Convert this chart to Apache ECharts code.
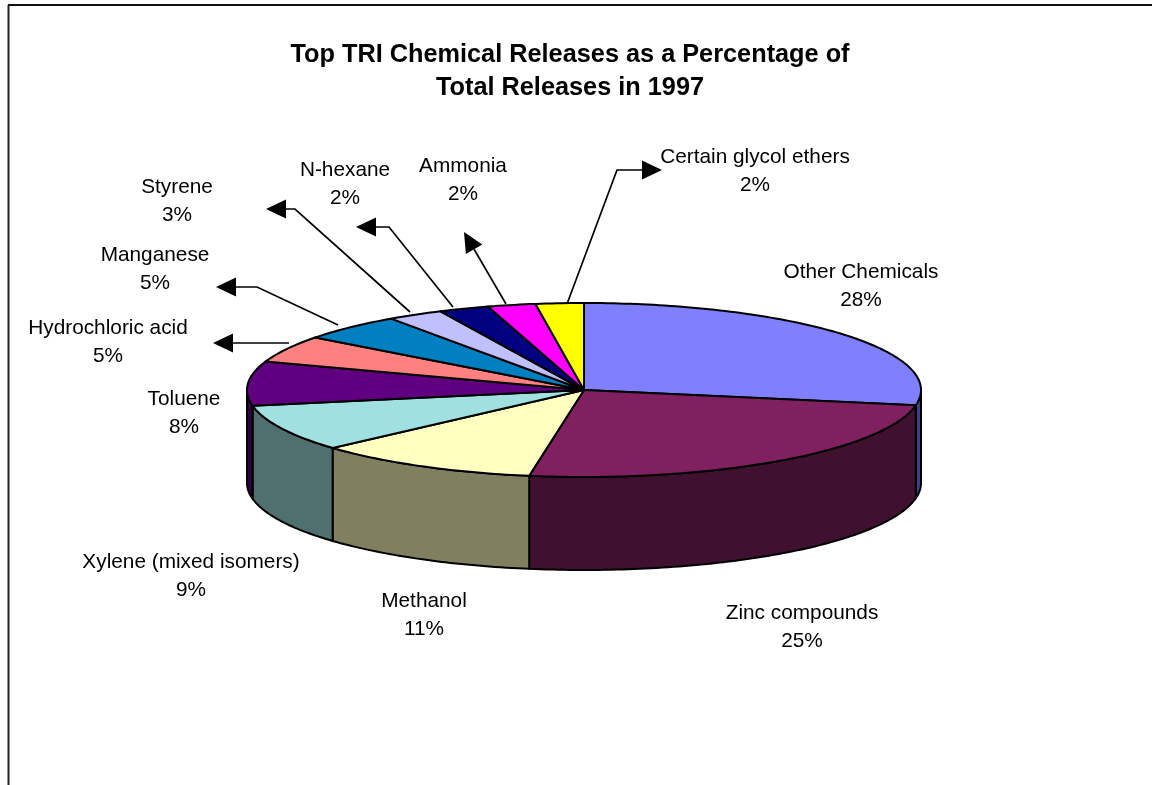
<!DOCTYPE html>
<html>
<head>
<meta charset="utf-8">
<title>Top TRI Chemical Releases 1997</title>
<script src="https://cdn.jsdelivr.net/npm/echarts@6/dist/echarts.min.js"></script>
<style>
  html, body { margin: 0; padding: 0; background: #ffffff; }
  #chart { width: 1152px; height: 785px; }
</style>
</head>
<body>
<div id="chart"></div>
<script>
// Chemicals, in pie order (clockwise from 12 o'clock)
const CATEGORIES = [
  'Other Chemicals', 'Zinc compounds', 'Methanol', 'Xylene (mixed isomers)',
  'Toluene', 'Hydrochloric acid', 'Manganese', 'Styrene', 'N-hexane',
  'Ammonia', 'Certain glycol ethers'
];
// Share of total 1997 releases, percent
const SHARES = [27.8, 24.8, 10.8, 8.7, 8.2, 5.0, 5.0, 2.7, 2.4, 2.3, 2.3];
const TITLE_LINES = ['Top TRI Chemical Releases as a Percentage of', 'Total Releases in 1997'];

// Slice face colours; the cylinder wall uses a darker shade of the same colour
const FACE_COLORS = ['#8080FF', '#802060', '#FFFFC0', '#A0E0E0', '#600080', '#FF8080',
                     '#0080C0', '#C0C0FF', '#000080', '#FF00FF', '#FFFF00'];

// Tilted pie geometry, pixels
const PIE = { cx: 584, cy: 390, rx: 337, ry: 87, depth: 93 };
const FONT = 'Liberation Sans, Arial, Helvetica, sans-serif';

// Label block centres
const LABEL_POS = {
  'Other Chemicals': [861, 286],
  'Zinc compounds': [802, 627],
  'Methanol': [424, 615],
  'Xylene (mixed isomers)': [191, 576],
  'Toluene': [184, 413],
  'Hydrochloric acid': [108, 342],
  'Manganese': [155, 269],
  'Styrene': [177, 201],
  'N-hexane': [345, 184],
  'Ammonia': [463, 180],
  'Certain glycol ethers': [755, 171]
};
// Callout arrows for the thin slices: from the rim, via an optional elbow, to the arrow tip
const CALLOUTS = {
  'Certain glycol ethers': [[567, 304], [617, 170], [662, 170]],
  'Ammonia': [[506, 304], [464, 232]],
  'N-hexane': [[453, 307], [389, 227], [356, 227]],
  'Styrene': [[410, 312], [295, 209], [266, 209]],
  'Manganese': [[338, 325], [257, 287], [216, 287]],
  'Hydrochloric acid': [[289, 343], [213, 343]]
};

const total = SHARES.reduce((a, b) => a + b, 0);
const startAngles = [];
SHARES.reduce((acc, v) => { startAngles.push(acc / total * 360); return acc + v; }, 0);

function shade(hex, k) {
  const n = parseInt(hex.slice(1), 16);
  const r = Math.round(((n >> 16) & 255) * k);
  const g = Math.round(((n >> 8) & 255) * k);
  const b = Math.round((n & 255) * k);
  return 'rgb(' + r + ',' + g + ',' + b + ')';
}
// point on the rim for a clockwise angle from 12 o'clock, optionally dropped down the wall
function rim(deg, drop) {
  const t = deg * Math.PI / 180;
  return [PIE.cx + PIE.rx * Math.sin(t), PIE.cy - PIE.ry * Math.cos(t) + (drop || 0)];
}
function arc(a0, a1, drop) {
  const n = Math.max(2, Math.ceil(Math.abs(a1 - a0)));
  const pts = [];
  for (let i = 0; i <= n; i++) pts.push(rim(a0 + (a1 - a0) * i / n, drop));
  return pts;
}
function arrow(points) {
  const tip = points[points.length - 1];
  const prev = points[points.length - 2];
  const dx = tip[0] - prev[0], dy = tip[1] - prev[1];
  const len = Math.hypot(dx, dy);
  const ux = dx / len, uy = dy / len;
  const L = 20, H = 9.5;
  const base = [tip[0] - ux * L, tip[1] - uy * L];
  const shaft = points.slice(0, -1).concat([base]);
  return [
    { type: 'polyline', shape: { points: shaft },
      style: { stroke: '#000', lineWidth: 1.7, fill: null } },
    { type: 'polygon',
      shape: { points: [tip, [base[0] - uy * H, base[1] + ux * H], [base[0] + uy * H, base[1] - ux * H]] },
      style: { fill: '#000', stroke: null } }
  ];
}

function renderSlice(params, api) {
  const i = params.dataIndex;
  const name = CATEGORIES[i];
  const value = api.value(0);
  const a0 = startAngles[i];
  const a1 = a0 + value / total * 360;
  const children = [];

  // front half of the cylinder wall
  const w0 = Math.max(a0, 90), w1 = Math.min(a1, 270);
  if (w1 > w0) {
    children.push({
      type: 'polygon',
      shape: { points: arc(w0, w1, 0).concat(arc(w1, w0, PIE.depth)) },
      style: { fill: shade(FACE_COLORS[i], 0.5), stroke: '#000', lineWidth: 2, lineJoin: 'round' }
    });
  }
  // top face
  children.push({
    type: 'polygon',
    shape: { points: [[PIE.cx, PIE.cy]].concat(arc(a0, a1, 0)) },
    style: { fill: FACE_COLORS[i], stroke: '#000', lineWidth: 2, lineJoin: 'round' }
  });

  if (CALLOUTS[name]) children.push.apply(children, arrow(CALLOUTS[name]));

  const pos = LABEL_POS[name];
  children.push({
    type: 'text',
    x: pos[0], y: pos[1],
    style: {
      text: name + '\n' + Math.round(value / total * 100) + '%',
      fill: '#000', fontFamily: FONT, fontSize: 20.8, lineHeight: 28,
      align: 'center', verticalAlign: 'middle'
    }
  });
  return { type: 'group', children: children };
}

const chart = echarts.init(document.getElementById('chart'), null, { renderer: 'canvas' });
chart.setOption({
  backgroundColor: '#ffffff',
  animation: false,
  title: {
    text: TITLE_LINES.join('\n'),
    left: 570, top: 39, textAlign: 'center', padding: 0,
    textStyle: { fontFamily: FONT, fontSize: 25.3, fontWeight: 'bold', lineHeight: 33, color: '#000' }
  },
  graphic: [
    { type: 'line', shape: { x1: 8, y1: 5, x2: 1152, y2: 5 }, style: { stroke: '#111', lineWidth: 2 } },
    { type: 'line', shape: { x1: 8.5, y1: 5, x2: 8.5, y2: 785 }, style: { stroke: '#222', lineWidth: 2 } }
  ],
  series: [{
    type: 'custom',
    coordinateSystem: 'none',
    silent: true,
    renderItem: renderSlice,
    data: CATEGORIES.map((c, i) => ({ name: c, value: [SHARES[i]] }))
  }]
});
</script>
</body>
</html>
